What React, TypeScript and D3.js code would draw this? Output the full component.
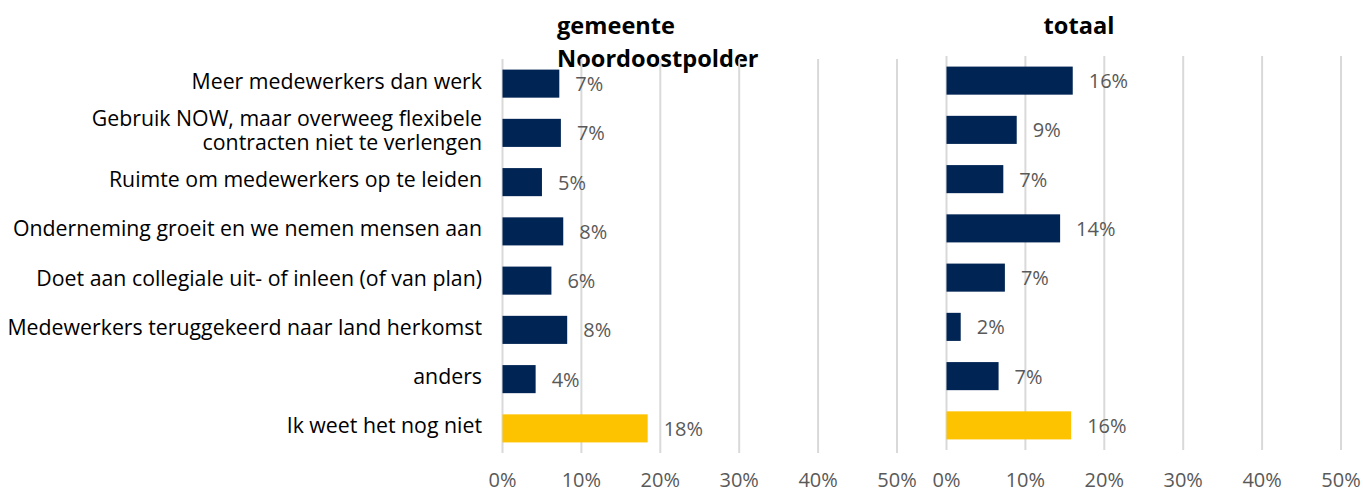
import React from "react";
import * as d3 from "d3";

const categories: string[][] = [
  ["Meer medewerkers dan werk"],
  ["Gebruik NOW, maar overweeg flexibele", "contracten niet te verlengen"],
  ["Ruimte om medewerkers op te leiden"],
  ["Onderneming groeit en we nemen mensen aan"],
  ["Doet aan collegiale uit- of inleen (of van plan)"],
  ["Medewerkers teruggekeerd naar land herkomst"],
  ["anders"],
  ["Ik weet het nog niet"],
];
const gemeente = [7.2, 7.4, 5.0, 7.7, 6.2, 8.2, 4.2, 18.4];
const totaal = [16.0, 8.9, 7.2, 14.4, 7.4, 1.8, 6.6, 15.8];
const ticks = [0, 10, 20, 30, 40, 50];

const NAVY = "#002454";
const YELLOW = "#fdc300";
const GRID = "#d9d9d9";
const GRAY = "#595959";
const FONT = "'Open Sans', sans-serif";

type PanelProps = {
  values: number[];
  x0: number;
  top: number;
  bottom: number;
  showLabels: boolean;
};

function Panel({ values, x0, top, bottom, showLabels }: PanelProps) {
  const x = d3.scaleLinear().domain([0, 50]).range([x0, x0 + 394.5]);
  const y = d3
    .scaleBand<number>()
    .domain(values.map((_, i) => i))
    .range([top, bottom])
    .paddingInner(0.43)
    .paddingOuter(0.215);
  const bw = y.bandwidth();
  return (
    <g>
      {ticks.map((t) => (
        <g key={t}>
          <line
            x1={x(t)}
            x2={x(t)}
            y1={top}
            y2={bottom}
            stroke={GRID}
            strokeWidth={2}
          />
          <text
            x={x(t)}
            y={487}
            textAnchor="middle"
            fontFamily={FONT}
            fontSize={20}
            fill={GRAY}
          >
            {t}%
          </text>
        </g>
      ))}
      {values.map((v, i) => {
        const yc = (y(i) as number) + bw / 2;
        const last = i === values.length - 1;
        return (
          <g key={i}>
            <rect
              x={x(0)}
              y={y(i)}
              width={x(v) - x(0)}
              height={bw}
              fill={last ? YELLOW : NAVY}
            />
            <text
              x={x(v) + 16}
              y={yc + 7.5}
              fontFamily={FONT}
              fontSize={20}
              fill={GRAY}
            >
              {Math.round(v)}%
            </text>
            {showLabels && (
              <text
                x={482}
                textAnchor="end"
                fontFamily={FONT}
                fontSize={21.3}
                fill="#000"
              >
                {categories[i].map((line, j) => (
                  <tspan
                    key={j}
                    x={482}
                    y={
                      yc +
                      5 +
                      (j - (categories[i].length - 1) / 2) * 24
                    }
                  >
                    {line}
                  </tspan>
                ))}
              </text>
            )}
          </g>
        );
      })}
    </g>
  );
}

export default function App() {
  return (
    <svg
      width={1363}
      height={492}
      style={{ position: "absolute", left: 0, top: 0, background: "#fff" }}
    >
      <rect width={1363} height={492} fill="#fff" />
      <text
        fontFamily={FONT}
        fontWeight="bold"
        fontSize={23.6}
        fill="#000"
      >
        <tspan x={557} y={34}>
          gemeente
        </tspan>
        <tspan x={557} y={67}>
          Noordoostpolder
        </tspan>
      </text>
      <text
        x={1079}
        y={34}
        textAnchor="middle"
        fontFamily={FONT}
        fontWeight="bold"
        fontSize={23.6}
        fill="#000"
      >
        totaal
      </text>
      <Panel values={gemeente} x0={502.5} top={59} bottom={453} showLabels />
      <Panel values={totaal} x0={946.5} top={56} bottom={450} showLabels={false} />
    </svg>
  );
}
